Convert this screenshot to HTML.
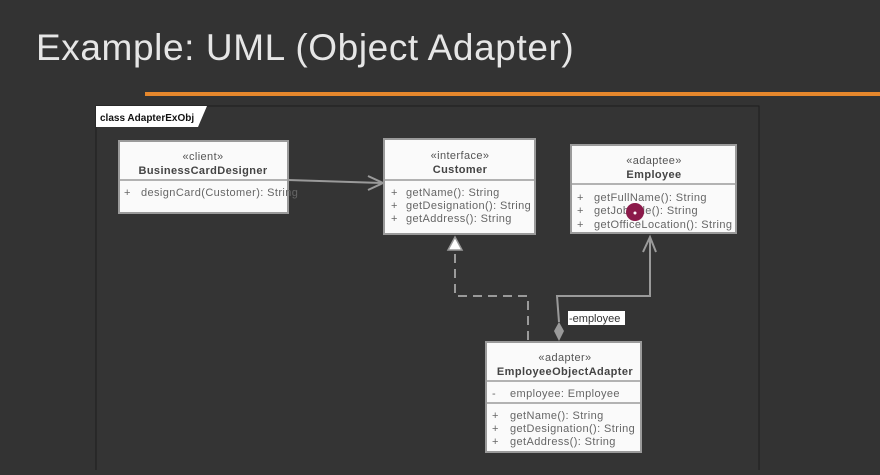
<!DOCTYPE html>
<html><head><style>
body{margin:0;background:#333333;width:880px;height:470px;overflow:hidden;font-family:"Liberation Sans",sans-serif}
</style></head><body>
<svg width="880" height="470" xmlns="http://www.w3.org/2000/svg" font-family="Liberation Sans, sans-serif">
<rect width="880" height="470" fill="#333333"/>
<text x="36" y="60" font-size="37" fill="#e6e6e6" font-weight="300" letter-spacing="0.6">Example: UML (Object Adapter)</text>
<rect x="145" y="92" width="735" height="4" fill="#e5872c"/>
<rect x="96" y="106" width="663" height="380" fill="#343434" stroke="#1e1e1e" stroke-width="1"/>
<polygon points="96,106 207,106 198,127 96,127" fill="#fff"/>
<text x="100" y="121" font-size="10" font-weight="bold" fill="#111">class AdapterExObj</text>
<g stroke="#9a9a9a" stroke-width="2" fill="#fafafa">
<rect x="119" y="141" width="169" height="72"/>
<rect x="384" y="139" width="151" height="95"/>
<rect x="571" y="145" width="165" height="88"/>
<rect x="486" y="342" width="155" height="110"/>
</g>
<g stroke="#9a9a9a" stroke-width="1.5">
<line x1="119" y1="180" x2="288" y2="180"/>
<line x1="384" y1="180" x2="535" y2="180"/>
<line x1="571" y1="184" x2="736" y2="184"/>
<line x1="486" y1="381" x2="641" y2="381"/>
<line x1="486" y1="403" x2="641" y2="403"/>
</g>
<g font-size="11" fill="#555" text-anchor="middle" letter-spacing="0.4">
<text x="203" y="160">«client»</text>
<text x="203" y="174" font-weight="bold" fill="#444">BusinessCardDesigner</text>
<text x="460" y="159">«interface»</text>
<text x="460" y="173" font-weight="bold" fill="#444">Customer</text>
<text x="654" y="164">«adaptee»</text>
<text x="654" y="178" font-weight="bold" fill="#444">Employee</text>
<text x="565" y="361">«adapter»</text>
<text x="565" y="375" font-weight="bold" fill="#444">EmployeeObjectAdapter</text>
</g>
<g font-size="11" fill="#666" letter-spacing="0.4">
<text x="124" y="196">+</text><text x="141" y="196">designCard(Customer): String</text>
<text x="391" y="196">+</text><text x="406" y="196">getName(): String</text>
<text x="391" y="209">+</text><text x="406" y="209">getDesignation(): String</text>
<text x="391" y="222">+</text><text x="406" y="222">getAddress(): String</text>
<text x="577" y="201">+</text><text x="594" y="201">getFullName(): String</text>
<text x="577" y="214">+</text><text x="594" y="214">getJobTitle(): String</text>
<text x="577" y="228">+</text><text x="594" y="228">getOfficeLocation(): String</text>
<text x="492" y="397">-</text><text x="510" y="397">employee: Employee</text>
<text x="492" y="419">+</text><text x="510" y="419">getName(): String</text>
<text x="492" y="432">+</text><text x="510" y="432">getDesignation(): String</text>
<text x="492" y="445">+</text><text x="510" y="445">getAddress(): String</text>
</g>
<g stroke="#9a9a9a" stroke-width="2" fill="none">
<line x1="288" y1="180" x2="383" y2="183"/>
<polyline points="368,176 383,183 368,190"/>
<polyline points="528,340 528,296 455,296 455,250" stroke-dasharray="9,6"/>
<polyline points="559,322 557,296 650,296 650,237"/>
<polyline points="643,252 650,237 656,252"/>
</g>
<polygon points="455,237 448,250 462,250" fill="#fff" stroke="#9a9a9a" stroke-width="1.5"/>
<polygon points="559,322 564,331 559,341 554,331" fill="#9a9a9a"/>
<rect x="568" y="311" width="57" height="14" fill="#fff"/>
<text x="569" y="322" font-size="11" fill="#333">-employee</text>
<circle cx="635" cy="212" r="9" fill="#8b1a4a"/>
<circle cx="635" cy="213" r="1.5" fill="#fff"/>
</svg>
</body></html>
